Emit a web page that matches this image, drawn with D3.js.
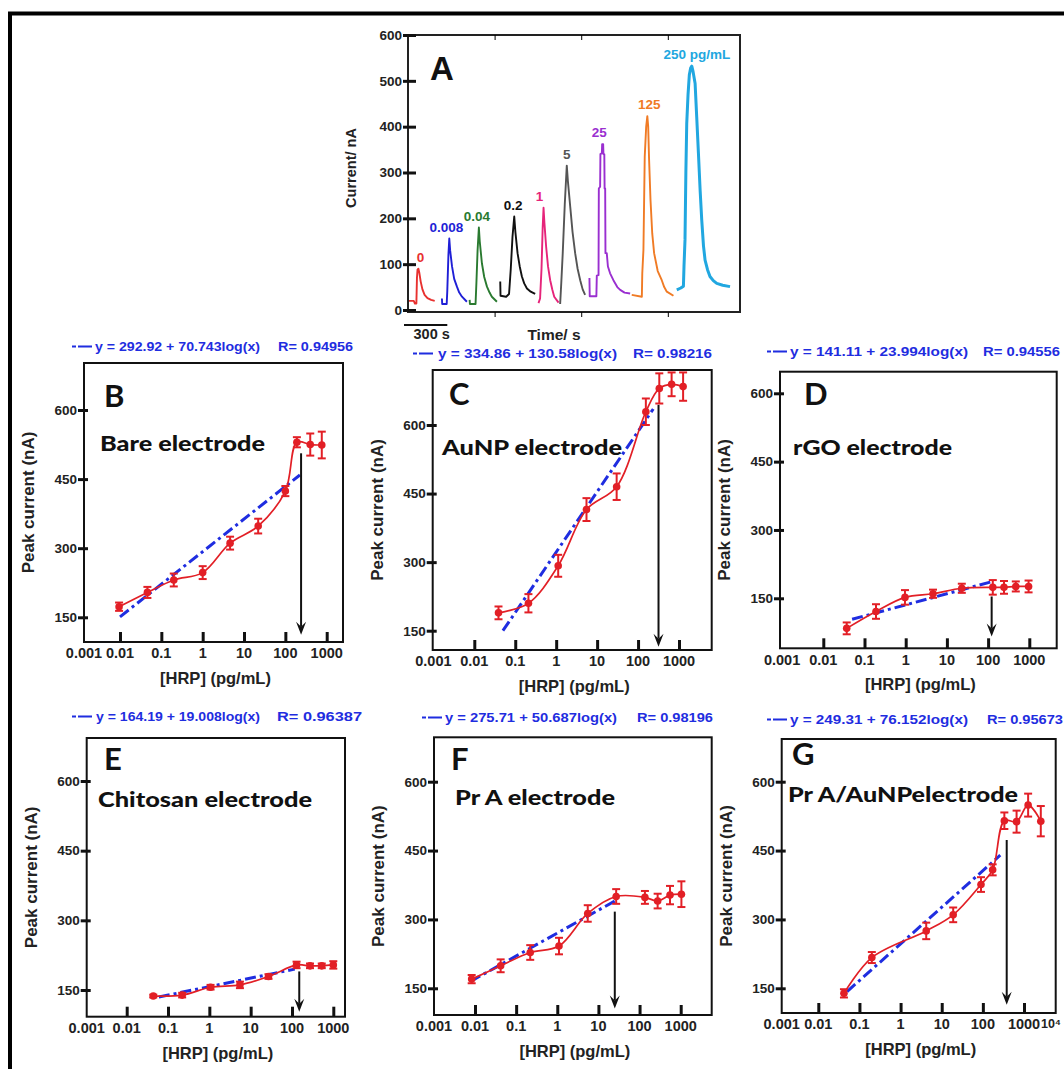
<!DOCTYPE html>
<html>
<head>
<meta charset="utf-8">
<script src="https://cdn.jsdelivr.net/npm/d3@7"></script>
<style>
  body { margin: 0; background: #fff; }
  svg { display: block; }
</style>
</head>
<body>
<div id="fig"></div>
<script>
// ---------- panel A: amperometric traces, [time (s), current (nA)]
const trace0    = [[0,20],[40,20],[48,14],[58,14],[62,70],[66,88],[72,90],[78,82],[88,62],[100,45],[115,33],[135,26],[160,22],[185,20]];
const trace0008 = [[235,25],[237,13],[268,13],[272,40],[280,120],[286,156],[292,130],[305,95],[320,68],[339,51],[355,38],[374,29],[408,18]];
const trace004  = [[427,22],[429,13],[468,13],[474,60],[482,130],[491,180],[497,150],[512,102],[528,72],[547,51],[565,38],[581,29],[616,18]];
const trace02   = [[639,62],[641,31],[680,29],[700,35],[712,90],[724,160],[736,204],[744,170],[759,124],[774,95],[789,73],[805,58],[824,47],[850,40],[881,35]];
const trace1    = [[904,15],[915,25],[925,90],[933,180],[939,223],[945,190],[957,138],[970,95],[985,65],[1000,44],[1013,29],[1043,16]];
const trace5    = [[1054,13],[1062,60],[1072,124],[1086,230],[1100,315],[1108,280],[1124,225],[1140,170],[1158,124],[1175,90],[1193,65],[1210,45],[1227,33]];
const trace25   = [[1257,70],[1259,30],[1305,30],[1308,75],[1320,76],[1322,265],[1331,269],[1333,340],[1343,342],[1345,362],[1352,362],[1354,340],[1360,340],[1362,265],[1366,265],[1368,124],[1377,124],[1385,95],[1400,80],[1423,65],[1450,50],[1470,44],[1500,38],[1539,36]];
const trace125  = [[1550,33],[1620,29],[1623,80],[1631,131],[1640,334],[1650,400],[1658,423],[1664,400],[1670,330],[1680,240],[1692,167],[1705,124],[1730,85],[1758,65],[1775,50],[1793,40],[1839,31]];
const trace250  = [[1862,44],[1890,48],[1908,52],[1912,95],[1919,153],[1925,300],[1931,407],[1940,470],[1949,513],[1958,528],[1966,532],[1975,520],[1989,494],[2000,422],[2012,342],[2024,260],[2035,196],[2047,140],[2058,109],[2075,88],[2092,73],[2115,64],[2139,58],[2180,54],[2231,51]];
const traceLabels = ["0", "0.008", "0.04", "0.2", "1", "5", "25", "125", "250 pg/mL"];
const aYTicks = [0, 100, 200, 300, 400, 500, 600];
const aXTicks = [600, 1200, 1800];

// ---------- panels B-G: [HRP] (pg/mL) vs peak current (nA)
const bareConc    = [0.0095, 0.046, 0.2, 1, 4.6, 22, 100, 190, 400, 760];
const bareCurrent = [173, 204, 231, 247, 311, 348, 424, 530, 525, 524];
const bareErr     = [9, 12, 14, 14, 14, 16, 11, 11, 24, 29];
const bareFit     = [[0.01, 151], [225, 459]];
const bareArrow   = [240, 506, 112];

const aunpConc    = [0.039, 0.21, 1.12, 5.5, 30, 155, 330, 660, 1260];
const aunpCurrent = [189, 210, 292, 415, 465, 629, 680, 689, 684];
const aunpErr     = [14, 20, 24, 25, 29, 29, 33, 26, 31];
const aunpFit     = [[0.05, 150], [235, 635]];
const aunpArrow   = [316, 644, 115];

const rgoConc     = [0.037, 0.19, 0.96, 4.6, 23, 130, 243, 470, 960];
const rgoCurrent  = [84, 121, 152, 160, 172, 174, 174, 176, 176];
const rgoErr      = [13, 16, 16, 9, 10, 16, 14, 11, 13];
const rgoFit      = [[0.05, 104], [130, 187]];
const rgoArrow    = [122, 154, 66];

const chitConc    = [0.044, 0.22, 1.07, 5.5, 27, 129, 273, 525, 1000];
const chitCurrent = [137, 139, 156, 161, 179, 204, 202, 202, 204];
const chitErr     = [3, 5, 5, 7, 5, 7, 5, 5, 8];
const chitFit     = [[0.06, 135], [117, 195]];
const chitArrow   = [150, 190, 103];

const praConc     = [0.0083, 0.042, 0.22, 1.1, 5.5, 27, 135, 275, 550, 1040];
const praCurrent  = [170, 199, 228, 242, 313, 350, 348, 340, 353, 355];
const praErr      = [9, 14, 16, 18, 18, 16, 14, 16, 20, 28];
const praFit      = [[0.0078, 165], [30, 344]];
const praArrow    = [25, 317, 106];

const praAuConc    = [0.042, 0.2, 4.2, 19, 90, 173, 333, 660, 1260, 2560];
const praAuCurrent = [139, 217, 275, 310, 376, 408, 515, 513, 549, 514];
const praAuErr     = [9, 12, 18, 16, 16, 12, 18, 24, 25, 33];
const praAuFit     = [[0.05, 143], [265, 440]];
const praAuArrow   = [380, 473, 114];

const xTickValues = [0.001, 0.01, 0.1, 1, 10, 100, 1000];
const xTickLabels = ["0.001", "0.01", "0.1", "1", "10", "100", "1000"];
const gTickValues = [0.001, 0.01, 0.1, 1, 10, 100, 1000, 10000];
const gTickLabels = ["0.001", "0.01", "0.1", "1", "10", "100", "1000", "10\u2074"];
const markTicks   = [0.01, 0.1, 1, 10, 100, 1000];
const yTickValues = [150, 300, 450, 600];

// ---------- drawing
const W = 1064, H = 1069;
const NUM = "'Liberation Sans', Arial, sans-serif";
const CAL = "Lato, 'Open Sans', sans-serif";

const svg = d3.select("#fig").append("svg")
    .attr("width", W)
    .attr("height", H)
    .style("font-family", NUM);

svg.append("rect").attr("width", W).attr("height", H).attr("fill", "#fff");
// outer frame (runs off the right and bottom)
svg.append("rect")
    .attr("x", 10).attr("y", 13.5)
    .attr("width", 1200).attr("height", 1200)
    .attr("fill", "none").attr("stroke", "#000").attr("stroke-width", 4);

// ===== panel A
const traces = [trace0, trace0008, trace004, trace02, trace1, trace5, trace25, trace125, trace250];
const traceColors = ["#e8312f", "#1f1fd6", "#2a7a30", "#111111", "#e6247a", "#555555", "#9a2fd0", "#f07b25", "#21a7e0"];
const labelDx = [2, -3, -2, -1, -4, 0, -3, 2, 5];

const ax = d3.scaleLinear().domain([0, 2300]).range([408, 740]);
const ay = d3.scaleLinear().domain([0, 600]).range([310, 35]);
const gA = svg.append("g");

const traceLine = d3.line().x(d => ax(d[0])).y(d => ay(d[1]));
traces.forEach((t, i) => {
    gA.append("path")
        .attr("d", traceLine(t))
        .attr("fill", "none")
        .attr("stroke", traceColors[i])
        .attr("stroke-width", i === 8 ? 3 : 1.9)
        .attr("stroke-linejoin", "round");
    const peak = t.reduce((a, b) => (b[1] > a[1] ? b : a));
    gA.append("text")
        .attr("x", ax(peak[0]) + labelDx[i])
        .attr("y", ay(peak[1]) - 7)
        .attr("text-anchor", "middle")
        .attr("font-size", 13.5)
        .attr("font-weight", "bold")
        .attr("fill", traceColors[i])
        .text(traceLabels[i]);
});

gA.append("rect")
    .attr("x", 408).attr("y", 35).attr("width", 332).attr("height", 277)
    .attr("fill", "none").attr("stroke", "#222").attr("stroke-width", 2);

gA.append("g")
    .attr("transform", `translate(${ax(0)},0)`)
    .call(d3.axisLeft(ay).tickValues(aYTicks).tickSizeInner(5).tickSizeOuter(0).tickPadding(1))
    .call(g => {
        g.select(".domain").remove();
        g.selectAll(".tick line").attr("x1", 8).attr("stroke", "#111").attr("stroke-width", 3);
        g.selectAll("text").attr("font-size", 13.5).attr("font-weight", "bold").attr("fill", "#222")
            .attr("font-family", NUM);
    });
gA.append("g")
    .attr("transform", "translate(0,312)")
    .call(d3.axisBottom(ax).tickValues(aXTicks).tickSizeInner(5).tickSizeOuter(0).tickFormat(""))
    .call(g => g.select(".domain").remove());
gA.append("g")
    .attr("transform", "translate(0,35)")
    .call(d3.axisTop(ax).tickValues(aXTicks).tickSizeInner(-5).tickSizeOuter(0).tickFormat(""))
    .call(g => g.select(".domain").remove());

gA.append("text").attr("x", 430).attr("y", 80)
    .attr("font-size", 33).attr("font-weight", "bold").attr("fill", "#111").text("A");
gA.append("text")
    .attr("transform", "translate(356,168) rotate(-90)")
    .attr("text-anchor", "middle").attr("font-size", 14.5).attr("font-weight", "bold").attr("fill", "#222")
    .text("Current/ nA");
gA.append("text").attr("x", 554).attr("y", 340)
    .attr("text-anchor", "middle").attr("font-size", 15.5).attr("font-weight", "bold").attr("fill", "#222")
    .text("Time/ s");
// 300 s scale bar
gA.append("line")
    .attr("x1", ax(0) - 4).attr("x2", ax(300) - 4).attr("y1", 325).attr("y2", 325)
    .attr("stroke", "#111").attr("stroke-width", 2);
gA.append("text").attr("x", ax(150) + 2).attr("y", 339)
    .attr("text-anchor", "middle").attr("font-size", 14.5).attr("font-weight", "bold").attr("fill", "#222")
    .text("300 s");

// ===== panels B-G
const RED = "#e21f26", BLUE = "#1f2de0";

function drawPanel(L, d) {
    const x = d3.scaleLog().domain([0.01, 1000]).range([L.x01, L.x1000]);
    const y = d3.scaleLinear().domain([150, 600]).range([L.y150, L.y600]);
    const g = svg.append("g");

    // equation legend above the frame
    g.append("line")
        .attr("x1", L.eq[0]).attr("x2", L.eq[1]).attr("y1", L.eq[4] - 4.5).attr("y2", L.eq[4] - 4.5)
        .attr("stroke", BLUE).attr("stroke-width", 2).attr("stroke-dasharray", "4,2,14");
    g.append("text").attr("x", L.eq[2]).attr("y", L.eq[4])
        .attr("font-size", 13.5).attr("font-weight", "bold").attr("fill", BLUE)
        .attr("textLength", L.eqW[0]).attr("lengthAdjust", "spacingAndGlyphs")
        .text(d.eq);
    g.append("text").attr("x", L.eq[3]).attr("y", L.eq[4])
        .attr("font-size", 13.5).attr("font-weight", "bold").attr("fill", BLUE)
        .attr("textLength", L.eqW[1]).attr("lengthAdjust", "spacingAndGlyphs")
        .text(d.r);

    // frame
    g.append("rect")
        .attr("x", L.left).attr("y", L.top)
        .attr("width", L.right - L.left).attr("height", L.bottom - L.top)
        .attr("fill", "none").attr("stroke", "#111").attr("stroke-width", 2);

    // x tick marks (inward) and labels
    g.append("g")
        .attr("transform", `translate(0,${L.bottom})`)
        .call(d3.axisBottom(x).tickValues(markTicks).tickSizeInner(-10).tickSizeOuter(0).tickFormat(""))
        .call(a => {
            a.select(".domain").remove();
            a.selectAll(".tick line").attr("stroke", "#111").attr("stroke-width", 3);
        });
    g.append("g")
        .attr("transform", `translate(0,${L.bottom})`)
        .call(d3.axisBottom(x).tickValues(d.ticks).tickSize(0).tickPadding(6)
            .tickFormat((v, i) => d.tickLabels[i]))
        .call(a => {
            a.select(".domain").remove();
            // 0.001 sits at the frame edge, 10^4 is pulled in to stay on the page
            a.selectAll(".tick").attr("transform", v => `translate(${Math.min(Math.max(x(v), L.left), W - 13)},0)`);
            a.selectAll("text").attr("font-size", v => (v > 1000 ? 12.5 : 14.5)).attr("font-weight", "bold")
                .attr("fill", "#222").attr("font-family", NUM);
        });

    // y ticks
    g.append("g")
        .attr("transform", `translate(${L.left},0)`)
        .call(d3.axisLeft(y).tickValues(yTickValues).tickSizeInner(6).tickSizeOuter(0).tickPadding(1))
        .call(a => {
            a.select(".domain").remove();
            a.selectAll(".tick line").attr("x1", 4).attr("stroke", "#111").attr("stroke-width", 3);
            a.selectAll("text").attr("font-size", 13.5).attr("font-weight", "bold")
                .attr("fill", "#222").attr("font-family", NUM);
        });

    // axis titles
    g.append("text")
        .attr("transform", `translate(${L.left - 50},${(L.top + L.bottom) / 2}) rotate(-90)`)
        .attr("text-anchor", "middle").attr("font-size", 17).attr("font-weight", "bold").attr("fill", "#222")
        .text("Peak current (nA)");
    g.append("text")
        .attr("x", (L.left + L.right) / 2 + 2).attr("y", L.bottom + 42)
        .attr("text-anchor", "middle").attr("font-size", 16.5).attr("font-weight", "bold").attr("fill", "#222")
        .text("[HRP] (pg/mL)");

    // panel letter and electrode name
    g.append("text").attr("x", L.letter[0]).attr("y", L.letter[1])
        .attr("font-family", CAL).attr("font-size", 31).attr("font-weight", "bold").attr("fill", "#111")
        .text(d.letter);
    g.append("text").attr("x", L.label[0]).attr("y", L.label[1])
        .attr("font-family", CAL).attr("font-size", 20.5).attr("font-weight", "900").attr("fill", "#111")
        .attr("textLength", L.label[2]).attr("lengthAdjust", "spacingAndGlyphs")
        .text(d.name);

    // linear fit (dash-dot)
    g.append("path")
        .attr("d", d3.line().x(p => x(p[0])).y(p => y(p[1]))(d.fit))
        .attr("fill", "none").attr("stroke", BLUE).attr("stroke-width", 3)
        .attr("stroke-dasharray", "11,4,3,4");

    const pts = d.conc.map((c, i) => ({ c, v: d.current[i], e: d.err[i] }));

    // smoothed curve through the means
    g.append("path")
        .attr("d", d3.line().x(p => x(p.c)).y(p => y(p.v)).curve(d3.curveCatmullRom.alpha(0.5))(pts))
        .attr("fill", "none").attr("stroke", RED).attr("stroke-width", 1.7);

    // error bars
    const eb = g.append("g").attr("stroke", RED).attr("stroke-width", 2);
    eb.selectAll(".v").data(pts).join("line")
        .attr("x1", p => x(p.c)).attr("x2", p => x(p.c))
        .attr("y1", p => y(p.v - p.e)).attr("y2", p => y(p.v + p.e));
    eb.selectAll(".t").data(pts).join("line")
        .attr("x1", p => x(p.c) - 4).attr("x2", p => x(p.c) + 4)
        .attr("y1", p => y(p.v + p.e)).attr("y2", p => y(p.v + p.e));
    eb.selectAll(".b").data(pts).join("line")
        .attr("x1", p => x(p.c) - 4).attr("x2", p => x(p.c) + 4)
        .attr("y1", p => y(p.v - p.e)).attr("y2", p => y(p.v - p.e));

    g.selectAll("circle").data(pts).join("circle")
        .attr("cx", p => x(p.c)).attr("cy", p => y(p.v)).attr("r", 3.8)
        .attr("fill", RED);

    // arrow marking the end of the linear range
    const axp = x(d.arrow[0]), y0 = y(d.arrow[1]), y1 = y(d.arrow[2]);
    g.append("line")
        .attr("x1", axp).attr("x2", axp).attr("y1", y0).attr("y2", y1 - 8)
        .attr("stroke", "#111").attr("stroke-width", 2);
    const head = d3.path();
    head.moveTo(axp - 5, y1 - 13);
    head.lineTo(axp, y1 - 8);
    head.lineTo(axp + 5, y1 - 13);
    head.lineTo(axp, y1);
    head.closePath();
    g.append("path").attr("d", head.toString()).attr("fill", "#111");
}

const panels = [
    {
        L: { left: 84, right: 343, top: 363, bottom: 642, x01: 120, x1000: 326.7, y150: 617.3, y600: 410,
             letter: [104, 407], label: [100, 451, 165], eq: [72, 93, 95, 278, 351], eqW: [165, 75] },
        d: { letter: "B", name: "Bare electrode", conc: bareConc, current: bareCurrent, err: bareErr,
             fit: bareFit, arrow: bareArrow, eq: "y = 292.92 + 70.743log(x)", r: "R= 0.94956",
             ticks: xTickValues, tickLabels: xTickLabels }
    },
    {
        L: { left: 432.7, right: 711.7, top: 370, bottom: 650, x01: 474.3, x1000: 679, y150: 630.7, y600: 425,
             letter: [449, 405], label: [442, 455, 180], eq: [413, 435, 438, 633, 358], eqW: [179, 79] },
        d: { letter: "C", name: "AuNP electrode", conc: aunpConc, current: aunpCurrent, err: aunpErr,
             fit: aunpFit, arrow: aunpArrow, eq: "y = 334.86 + 130.58log(x)", r: "R= 0.98216",
             ticks: xTickValues, tickLabels: xTickLabels }
    },
    {
        L: { left: 780, right: 1056.7, top: 371.7, bottom: 648.3, x01: 823.3, x1000: 1029.3, y150: 598.3, y600: 393.3,
             letter: [804, 405], label: [793, 455, 159], eq: [767, 787, 790, 983, 356], eqW: [178, 77] },
        d: { letter: "D", name: "rGO electrode", conc: rgoConc, current: rgoCurrent, err: rgoErr,
             fit: rgoFit, arrow: rgoArrow, eq: "y = 141.11 + 23.994log(x)", r: "R= 0.94556",
             ticks: xTickValues, tickLabels: xTickLabels }
    },
    {
        L: { left: 86.7, right: 345, top: 738, bottom: 1016.7, x01: 126.7, x1000: 333.3, y150: 990, y600: 781,
             letter: [104, 770], label: [98, 807, 214], eq: [72, 93, 96, 277, 721], eqW: [164, 85] },
        d: { letter: "E", name: "Chitosan electrode", conc: chitConc, current: chitCurrent, err: chitErr,
             fit: chitFit, arrow: chitArrow, eq: "y = 164.19 + 19.008log(x)", r: "R= 0.96387",
             ticks: xTickValues, tickLabels: xTickLabels }
    },
    {
        L: { left: 434, right: 711.7, top: 737.3, bottom: 1015, x01: 475, x1000: 680.7, y150: 988.3, y600: 781.7,
             letter: [451, 770], label: [455, 805, 160], eq: [422, 443, 445, 637, 722], eqW: [172, 76] },
        d: { letter: "F", name: "Pr A electrode", conc: praConc, current: praCurrent, err: praErr,
             fit: praFit, arrow: praArrow, eq: "y = 275.71 + 50.687log(x)", r: "R= 0.98196",
             ticks: xTickValues, tickLabels: xTickLabels }
    },
    {
        L: { left: 781.7, right: 1055.7, top: 739, bottom: 1013, x01: 818.3, x1000: 1024, y150: 988.3, y600: 781.7,
             letter: [792, 765], label: [788, 802, 230], eq: [767, 788, 790, 987, 724], eqW: [178, 76] },
        d: { letter: "G", name: "Pr A/AuNPelectrode", conc: praAuConc, current: praAuCurrent, err: praAuErr,
             fit: praAuFit, arrow: praAuArrow, eq: "y = 249.31 + 76.152log(x)", r: "R= 0.95673",
             ticks: gTickValues, tickLabels: gTickLabels }
    }
];

panels.forEach(p => drawPanel(p.L, p.d));
</script>
</body>
</html>
